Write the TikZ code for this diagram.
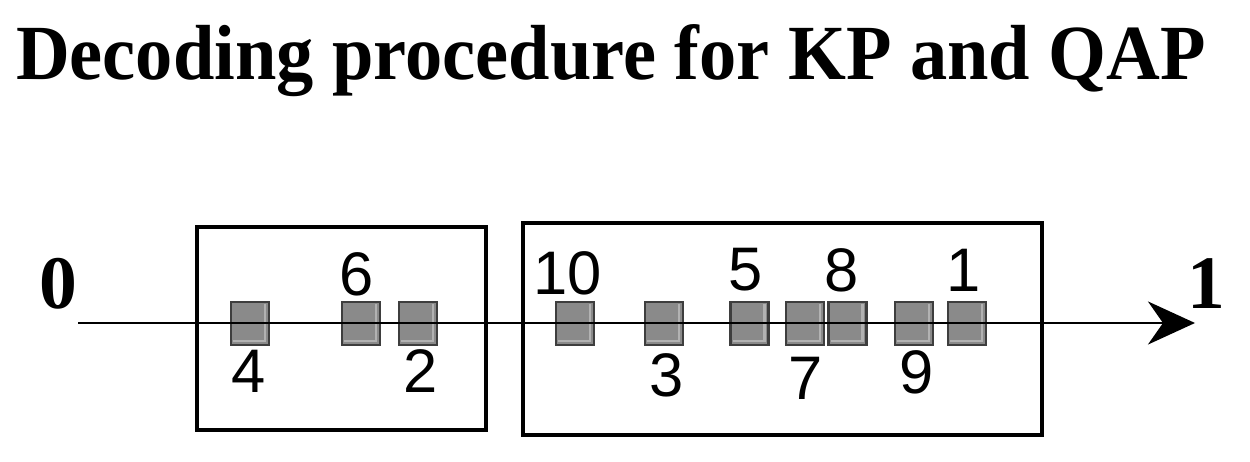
\documentclass[tikz,border=0pt]{standalone}
\usepackage{fontspec}
\setmainfont{Liberation Serif}
\newfontfamily\labelfont{Liberation Sans}
\usepackage{graphicx}
\usepackage{xcolor}
\usepackage{tikz}
\usetikzlibrary{arrows.meta,positioning}

\definecolor{cellgray}{RGB}{138,138,138}
\definecolor{cellborder}{RGB}{62,62,62}
\definecolor{cellrim}{RGB}{178,178,178}

\begin{document}
\begin{tikzpicture}[
    x=0.02cm, y=-0.02cm,
    cell/.style={draw=cellborder, fill=cellgray, line width=1.3pt, minimum width=0.76cm, minimum height=0.86cm, inner sep=0pt,
        path picture={\draw[cellrim, line width=1.4pt]
            ([xshift=1.3pt,yshift=2.2pt]path picture bounding box.south west) -- ([xshift=-2.2pt,yshift=2.2pt]path picture bounding box.south east)
            -- ([xshift=-2.2pt,yshift=-1.3pt]path picture bounding box.north east);}},
    num/.style={font=\labelfont\fontsize{35}{40}\selectfont, inner sep=0pt},
    endnum/.style={font=\bfseries\fontsize{43}{48}\selectfont, inner sep=0pt},
    group/.style={draw, line width=2.2pt},
    axis/.style={-{Stealth[length=0.94cm, width=0.86cm, inset=0.3cm]}, line width=1.7pt}
]
\useasboundingbox (0,0) rectangle (1250,462);

% Title
\node[anchor=base, inner sep=0pt] (title) at (611,80)
    {\resizebox{23.8cm}{1.1cm}{\bfseries Decoding procedure for KP and QAP}};

% Groups
\draw[group] (197,227) rectangle (486,430);
\draw[group] (523,223) rectangle (1042,435);

% Cells on the line
\node[cell] (c4) at (250,323.5) {};
\node[cell] (c6) at (361,323.5) {};
\node[cell] (c2) at (418,323.5) {};
\node[cell] (c10) at (575,323.5) {};
\node[cell] (c3) at (664,323.5) {};
\node[cell] (c5) at (749.5,323.5) {};
\node[cell] (c7) at (805,323.5) {};
\node[cell] (c8) at (847.5,323.5) {};
\node[cell] (c9) at (914,323.5) {};
\node[cell] (c1) at (967,323.5) {};

% Axis
\node[endnum] (zero) at (58.5,283.5) {0};
\node[endnum] (one) at (1206,284) {1};
\coordinate (start) at (78,323);
\coordinate (end) at (1195,323);
\draw[axis] (start) -- (end);

% Labels
\node[num] (l6) at (356.5,274.5) {6};
\node[num] (l10) at (568,273.5) {10};
\node[num] (l5) at (746,269.5) {5};
\node[num] (l8) at (842,270) {8};
\node[num] (l1) at (963.5,270) {1};
\node[num] (l4) at (249,371.5) {4};
\node[num] (l2) at (421,371.5) {2};
\node[num] (l3) at (667,375.5) {3};
\node[num] (l7) at (806,378.5) {7};
\node[num] (l9) at (917,372.5) {9};

\end{tikzpicture}
\end{document}
